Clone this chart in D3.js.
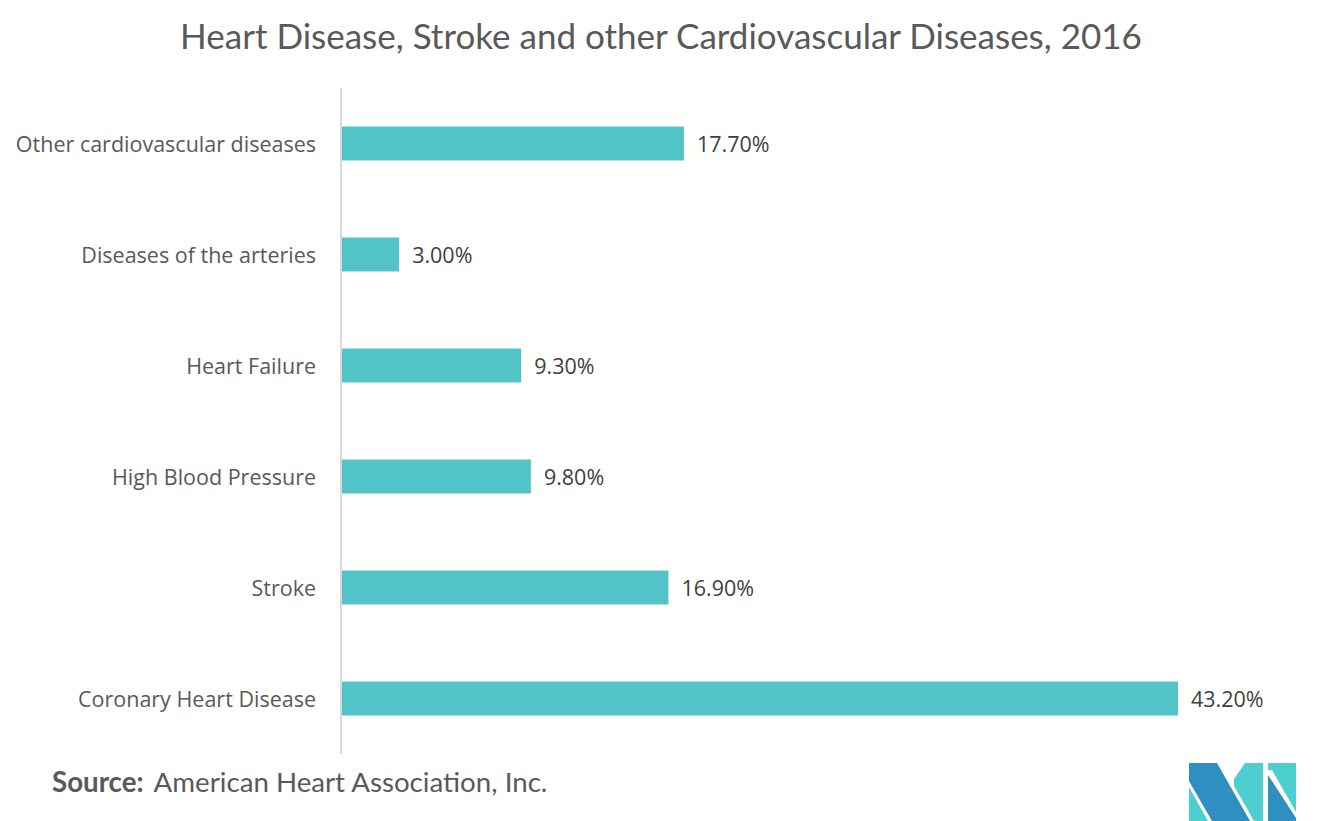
<!DOCTYPE html>
<html>
<head>
<meta charset="utf-8">
<script src="https://cdn.jsdelivr.net/npm/d3@7"></script>
<style>
  html, body { margin: 0; padding: 0; background: #ffffff; }
  svg { display: block; }
</style>
</head>
<body>
<svg id="chart" width="1334" height="821"></svg>
<script>
// ---- data ----
const categories = [
  "Other cardiovascular diseases",
  "Diseases of the arteries",
  "Heart Failure",
  "High Blood Pressure",
  "Stroke",
  "Coronary Heart Disease"
];
const values = [17.7, 3.0, 9.3, 9.8, 16.9, 43.2];
const valueLabels = ["17.70%", "3.00%", "9.30%", "9.80%", "16.90%", "43.20%"];
const titleText = "Heart Disease, Stroke and other Cardiovascular Diseases, 2016";
const sourceLabel = "Source:";
const sourceText = "American Heart Association, Inc.";

// ---- layout ----
const W = 1334, H = 821;
const plot = { left: 341, top: 88, bottom: 754 };
const svg = d3.select("#chart");

const x = d3.scaleLinear().domain([0, 43.2]).range([plot.left, 1178]);
const y = d3.scaleBand().domain(categories).range([plot.top, plot.bottom])
  .paddingInner(0.694).paddingOuter(0.347);

// title
svg.append("text")
  .attr("x", 661).attr("y", 49)
  .attr("text-anchor", "middle")
  .attr("font-family", "Lato, 'Open Sans', sans-serif")
  .attr("font-size", 35)
  .attr("fill", "#595959")
  .text(titleText);

// bars
svg.append("g").selectAll("rect")
  .data(categories)
  .join("rect")
  .attr("x", x(0))
  .attr("y", d => y(d))
  .attr("width", (d, i) => x(values[i]) - x(0))
  .attr("height", y.bandwidth())
  .attr("fill", "#52c4c7");

// axis line (left)
const yAxis = d3.axisLeft(y).tickSize(0).tickPadding(25);
const ga = svg.append("g").attr("transform", `translate(${plot.left},0)`).call(yAxis);
ga.select(".domain").attr("stroke", "#d9d9d9").attr("stroke-width", 2)
  .attr("d", `M0,${plot.top}V${plot.bottom}`);
ga.selectAll(".tick text")
  .attr("font-family", "'Open Sans', sans-serif")
  .attr("font-size", 21.5)
  .attr("dy", "0.38em")
  .attr("fill", "#595959");

// value labels
svg.append("g").selectAll("text")
  .data(categories)
  .join("text")
  .attr("x", (d, i) => x(values[i]) + 13)
  .attr("y", d => y(d) + y.bandwidth() / 2)
  .attr("dy", "0.38em")
  .attr("font-family", "'Open Sans', sans-serif")
  .attr("font-size", 21.5)
  .attr("fill", "#404040")
  .text((d, i) => valueLabels[i]);

// source
const src = svg.append("text")
  .attr("x", 52).attr("y", 792)
  .attr("font-family", "Lato, 'Open Sans', sans-serif")
  .attr("font-size", 27.7)
  .attr("fill", "#595959");
src.append("tspan").attr("font-weight", "bold").text(sourceLabel);
src.append("tspan").attr("dx", 10).text(sourceText);

// logo
const logo = svg.append("g");
const teal = "#4dcfd0", blue = "#2e8fc0";
logo.append("polygon").attr("points", "1189,787 1189,821 1208,821").attr("fill", teal);
logo.append("polygon").attr("points", "1189,763 1217,763 1250,821 1212,821 1189,781").attr("fill", blue);
logo.append("polygon").attr("points", "1245,763 1263,763 1263,821 1254,821 1234,786 1234,779").attr("fill", teal);
logo.append("polygon").attr("points", "1268,763 1296,763 1296,812 1272,770 1268,770").attr("fill", teal);
logo.append("polygon").attr("points", "1268,775 1268,821 1296,821 1296,818").attr("fill", blue);
</script>
</body>
</html>
